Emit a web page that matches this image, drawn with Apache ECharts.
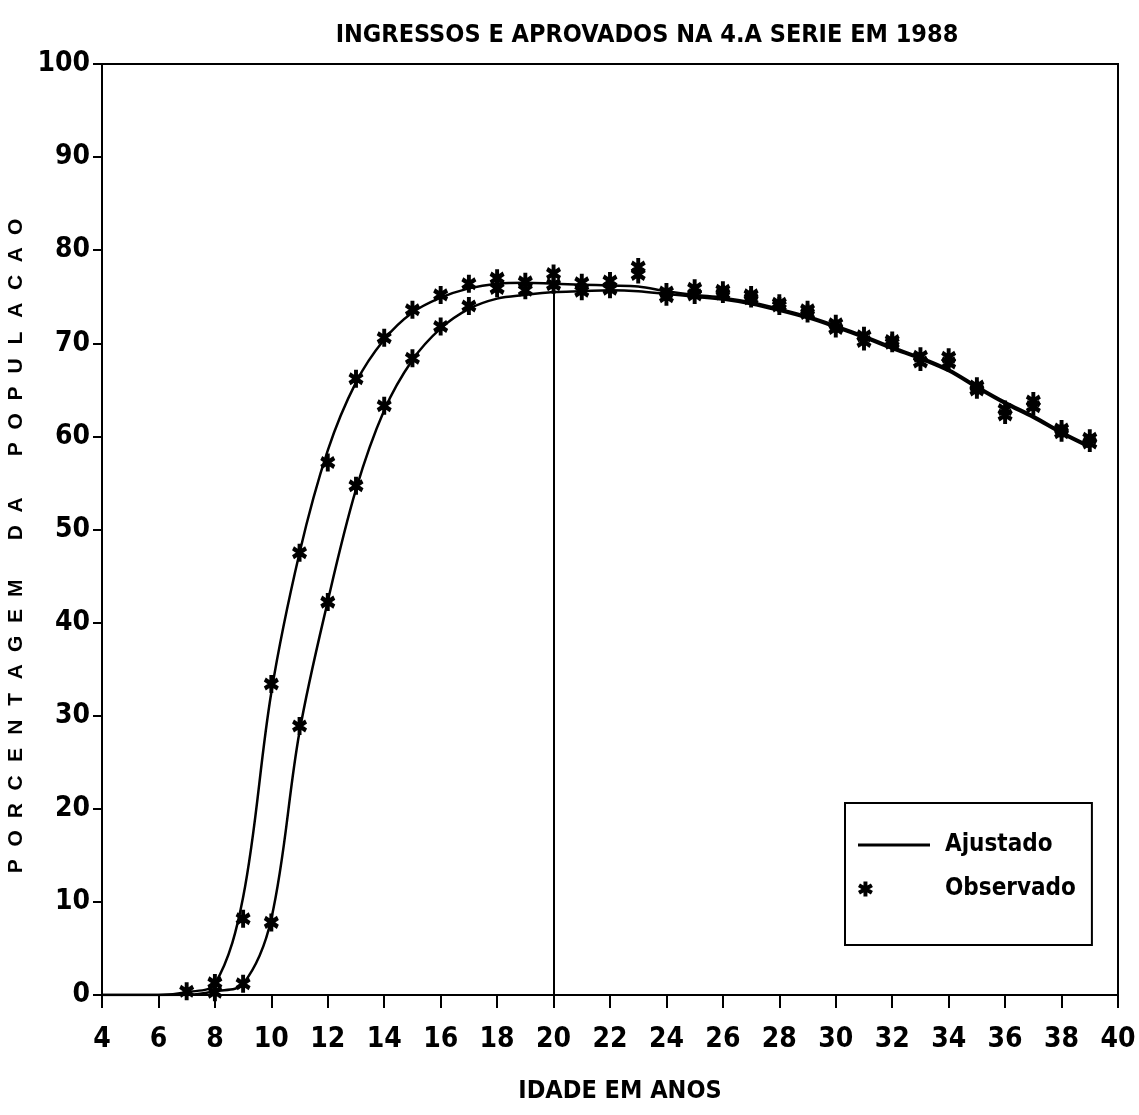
<!DOCTYPE html>
<html>
<head>
<meta charset="utf-8">
<script src="https://cdn.jsdelivr.net/npm/echarts@6/dist/echarts.min.js"></script>
<style>
  html, body { margin: 0; padding: 0; background: #ffffff; }
  #chart { width: 1139px; height: 1115px; }
</style>
</head>
<body>
<div id="chart"></div>
<script>
// Ages (years) at which the fitted curves are evaluated
const ages = [4, 5, 6, 7, 8, 9, 10, 11, 12, 13, 14, 15, 16, 17, 18, 19, 20, 21,
              22, 23, 24, 25, 26, 27, 28, 29, 30, 31, 32, 33, 34, 35, 36, 37, 38, 39];

// Fitted percentages: entrants (ingressos) and approved (aprovados)
const ingressosAjustado = [0, 0, 0, 0.3, 1.2, 10.5, 32.5, 47.5, 58.5, 65.8, 70.4, 73.3,
                           74.9, 75.9, 76.4, 76.5, 76.4, 76.3, 76.2, 76.1, 75.6, 75.2,
                           74.9, 74.4, 73.7, 72.9, 71.9, 70.8, 69.6, 68.5, 67.2, 65.4,
                           63.7, 62.2, 60.5, 59.0];
const aprovadosAjustado = [0, 0, 0, 0, 0.4, 1.2, 8.2, 28.3, 42.3, 54.3, 62.8, 68.2,
                           71.6, 73.7, 74.8, 75.2, 75.5, 75.6, 75.7, 75.6, 75.3, 75.0,
                           74.7, 74.2, 73.5, 72.7, 71.7, 70.6, 69.4, 68.3, 67.0, 65.2,
                           63.5, 62.0, 60.3, 58.8];

// Observed percentages
const agesIngressosObs = [7, 8, 9, 10, 11, 12, 13, 14, 15, 16, 17, 18, 19, 20, 21, 22, 23,
                          24, 25, 26, 27, 28, 29, 30, 31, 32, 33, 34, 35, 36, 37, 38, 39];
const ingressosObservado = [0.4, 1.3, 8.2, 33.4, 47.5, 57.2, 66.2, 70.6, 73.6, 75.2, 76.4,
                            77.0, 76.6, 77.5, 76.5, 76.7, 78.2, 75.5, 75.9, 75.7, 75.2,
                            74.3, 73.6, 72.1, 70.8, 70.3, 68.6, 68.5, 65.4, 62.9, 63.8,
                            60.8, 59.8];
const agesAprovadosObs = [8, 9, 10, 11, 12, 13, 14, 15, 16, 17, 18, 19, 20, 21, 22, 23,
                          24, 25, 26, 27, 28, 29, 30, 31, 32, 33, 34, 35, 36, 37, 38, 39];
const aprovadosObservado = [0.3, 1.2, 7.8, 28.9, 42.2, 54.7, 63.3, 68.4, 71.8, 74.0, 75.9,
                            75.7, 76.3, 75.6, 75.8, 77.4, 75.0, 75.2, 75.3, 74.8, 74.0,
                            73.2, 71.6, 70.2, 70.0, 68.0, 67.9, 65.0, 62.3, 63.2, 60.4,
                            59.3];

// Reference age marked with a vertical line
const markerAge = 20;

const titleText = 'INGRESSOS E APROVADOS NA 4.A SERIE EM 1988';
const xTitle = 'IDADE EM ANOS';
const yTitle = 'PORCENTAGEM DA POPULACAO';
const legendNames = ['Ajustado', 'Observado'];

const zip = (xs, ys) => xs.map((x, i) => [x, ys[i]]);

const NARROW = "'Liberation Sans Narrow', 'DejaVu Sans Condensed', 'Roboto Condensed', 'Arial Narrow', sans-serif";
const WIDE = "'Liberation Sans', 'DejaVu Sans', Arial, sans-serif";

// Six-armed asterisk: one vertical bar plus two bars at +/-30 degrees,
// all wound the same way so the nonzero fill covers the centre.
function asteriskPath(cx, cy, r, hw) {
  const pts = [];
  const bar = (deg) => {
    const a = deg * Math.PI / 180;
    const dx = Math.cos(a) * r, dy = Math.sin(a) * r;
    const nx = -Math.sin(a) * hw, ny = Math.cos(a) * hw;
    const c = [
      [cx - dx + nx, cy - dy + ny],
      [cx - dx - nx, cy - dy - ny],
      [cx + dx - nx, cy + dy - ny],
      [cx + dx + nx, cy + dy + ny]
    ];
    // keep a consistent (positive) orientation
    let s = 0;
    for (let i = 0; i < 4; i++) {
      const p = c[i], q = c[(i + 1) % 4];
      s += p[0] * q[1] - q[0] * p[1];
    }
    if (s < 0) c.reverse();
    pts.push('M' + c.map(p => p[0].toFixed(2) + ',' + p[1].toFixed(2)).join('L') + 'Z');
  };
  bar(90); bar(30); bar(-30);
  return pts.join('');
}

const STAR = 'path://' + asteriskPath(10, 10, 10, 2.6);
// Legend icons: asterisk at the left of a 72-wide slot, and a plain line
const STAR_ICON = 'path://' + asteriskPath(7, 10, 7.5, 2.0) + 'M72,10L72,10.01Z';
const LINE_ICON = 'path://M0,8.5L72,8.5L72,11.5L0,11.5Z';

const markerTop = ingressosAjustado[ages.indexOf(markerAge)];

const lineSeries = (values, withMarker) => ({
  name: legendNames[0],
  type: 'line',
  data: zip(ages, values),
  showSymbol: false,
  symbol: 'none',
  smooth: 0.35,
  lineStyle: { color: '#000', width: 2.5 },
  itemStyle: { color: '#000' },
  z: 3,
  markLine: withMarker ? {
    silent: true,
    symbol: 'none',
    label: { show: false },
    lineStyle: { color: '#000', width: 2, type: 'solid' },
    data: [[{ coord: [markerAge, 0] }, { coord: [markerAge, markerTop] }]]
  } : undefined
});

const starSeries = (xs, ys) => ({
  name: legendNames[1],
  type: 'scatter',
  data: zip(xs, ys),
  symbol: STAR,
  symbolSize: [15, 18],
  itemStyle: { color: '#000', opacity: 1 },
  z: 4
});

const chart = echarts.init(document.getElementById('chart'), null, { renderer: 'canvas' });

chart.setOption({
  animation: false,
  backgroundColor: '#ffffff',
  title: {
    text: titleText,
    left: 642,
    top: 18,
    textAlign: 'center',
    textStyle: { fontFamily: NARROW, fontSize: 25, fontWeight: 'bold', color: '#000' }
  },
  grid: {
    left: 102, right: 21, top: 64, bottom: 120,
    outerBoundsMode: 'none',
    show: true, borderColor: '#000', borderWidth: 2, backgroundColor: 'transparent'
  },
  legend: {
    data: [
      { name: legendNames[0], icon: LINE_ICON },
      { name: legendNames[1], icon: STAR_ICON }
    ],
    orient: 'vertical',
    left: 845,
    top: 803,
    itemWidth: 72,
    itemHeight: 20,
    itemGap: 20,
    padding: [30, 16, 44, 13],
    borderColor: '#000',
    borderWidth: 2,
    backgroundColor: '#fff',
    selectedMode: false,
    textStyle: {
      fontFamily: NARROW, fontSize: 24, fontWeight: 'bold', color: '#000',
      padding: [0, 0, 0, 10]
    }
  },
  xAxis: {
    type: 'value',
    min: 4, max: 40, interval: 2,
    name: xTitle,
    nameLocation: 'middle',
    nameGap: 84,
    nameTextStyle: {
      fontFamily: NARROW, fontSize: 25, fontWeight: 'bold', color: '#000',
      padding: [0, 0, 0, 20]
    },
    axisLine: { show: true, onZero: false, lineStyle: { color: '#000', width: 2 } },
    axisTick: { show: true, inside: false, length: 13, lineStyle: { color: '#000', width: 2 } },
    axisLabel: {
      margin: 31, color: '#000', fontFamily: NARROW, fontSize: 28, fontWeight: 'bold'
    },
    splitLine: { show: false }
  },
  yAxis: {
    type: 'value',
    min: 0, max: 100, interval: 10,
    name: yTitle.split('').map(ch => '{c|' + ch + '}').join(''),
    nameLocation: 'middle',
    nameRotate: 90,
    nameGap: 64,
    nameTextStyle: {
      padding: [0, 34, 0, 0],
      rich: {
        c: {
          width: 27.8, align: 'center',
          fontFamily: WIDE, fontSize: 21, fontWeight: 'bold', color: '#000'
        }
      }
    },
    axisLine: { show: true, lineStyle: { color: '#000', width: 2 } },
    axisTick: { show: true, inside: false, length: 9, lineStyle: { color: '#000', width: 2 } },
    axisLabel: {
      margin: 12, color: '#000', fontFamily: NARROW, fontSize: 28, fontWeight: 'bold'
    },
    splitLine: { show: false }
  },
  series: [
    lineSeries(ingressosAjustado, true),
    lineSeries(aprovadosAjustado, false),
    starSeries(agesIngressosObs, ingressosObservado),
    starSeries(agesAprovadosObs, aprovadosObservado)
  ]
});
</script>
</body>
</html>
